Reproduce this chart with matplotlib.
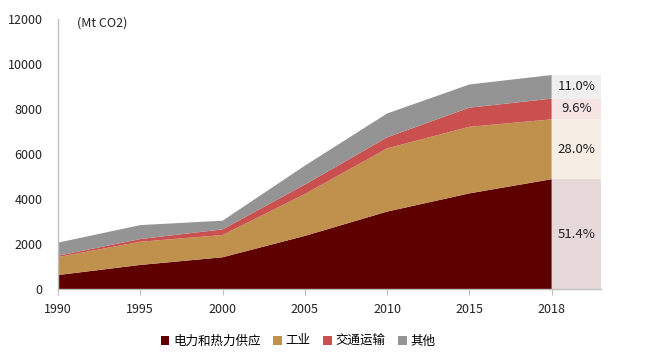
import matplotlib
matplotlib.use("Agg")
import matplotlib.pyplot as plt
import numpy as np
from matplotlib.patches import Patch

plt.rcParams['font.family'] = ['Noto Sans CJK SC', 'DejaVu Sans']

years = ['1990', '1995', '2000', '2005', '2010', '2015', '2018']
power = [620, 1070, 1410, 2360, 3440, 4250, 4880]
industry = [800, 1030, 990, 1860, 2810, 2960, 2660]
transport = [60, 120, 250, 420, 490, 850, 920]
other = [580, 620, 385, 840, 1060, 1030, 1050]
series_names = ['电力和热力供应', '工业', '交通运输', '其他']
shares_2018 = [51.4, 28.0, 9.6, 11.0]
colors = ['#5e0000', '#c0904d', '#c9504f', '#949494']
unit_label = '(Mt CO2)'

fig = plt.figure(figsize=(6.5, 3.53), dpi=100)
ax = fig.add_axes([58/650, 1-289/353, (601-58)/650, (289-19)/353])

x = np.arange(len(years))
data = [power, industry, transport, other]
ax.stackplot(x, *data, colors=colors, linewidth=0)

# share boxes at the right
last = [d[-1] for d in data]
bottom = 0
for val, c, s in zip(last, colors, shares_2018):
    ax.bar(x[-1], val, width=0.6, bottom=bottom, align='edge', color=c, alpha=0.15, linewidth=0)
    ax.text(x[-1] + 0.3, bottom + val/2, f'{s:.1f}%', ha='center', va='center',
            fontsize=9.5, color='#222222')
    bottom += val

ax.set_xlim(0, len(years) - 1 + 0.6)
ax.set_ylim(0, 12000)
ax.set_yticks(np.arange(0, 12001, 2000))
ax.set_yticklabels([str(v) for v in range(0, 12001, 2000)])
ax.set_xticks(x)
ax.set_xticklabels(years)
ax.tick_params(axis='y', length=0, pad=11, labelsize=9, labelcolor='#222222')
ax.tick_params(axis='x', length=4, width=0.8, color='#bfbfbf', pad=6, labelsize=9, labelcolor='#222222')
for sp in ['top', 'right']:
    ax.spines[sp].set_visible(False)
for sp in ['left', 'bottom']:
    ax.spines[sp].set_color('#bfbfbf')
    ax.spines[sp].set_linewidth(1)

ax.text(0.035, 0.985, unit_label, transform=ax.transAxes, ha='left', va='center',
        fontsize=9, color='#222222')

handles = [Patch(facecolor=c, edgecolor='none') for c in colors]
fig.legend(handles, series_names, loc='center', bbox_to_anchor=(298/650, 1-341/353),
           ncol=4, frameon=False, fontsize=9, handlelength=0.7, handleheight=0.7,
           handletextpad=0.3, columnspacing=1.0)

fig.savefig('out.png', dpi=100)
